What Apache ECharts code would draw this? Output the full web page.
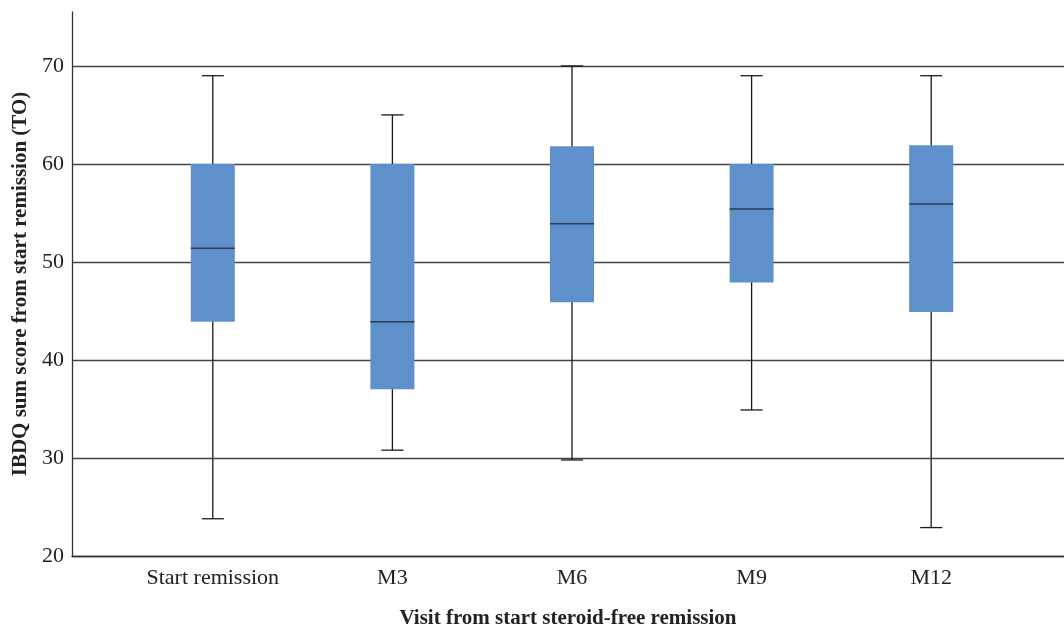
<!DOCTYPE html>
<html><head><meta charset="utf-8">
<script src="https://cdn.jsdelivr.net/npm/echarts@6/dist/echarts.min.js"></script>
<style>html,body{margin:0;padding:0;background:#fff}#c{width:1064px;height:627px}</style>
</head><body><div id="c"></div>
<script>
const categories = ['Start remission', 'M3', 'M6', 'M9', 'M12'];
const whiskerMin = [23.8, 30.8, 29.8, 34.9, 22.9];
const q1 = [43.9, 37.0, 45.9, 47.9, 44.9];
const median = [51.4, 43.9, 53.9, 55.4, 55.9];
const q3 = [60.0, 60.0, 61.8, 60.0, 61.9];
const whiskerMax = [69.0, 65.0, 70.0, 69.0, 69.0];
const yTicks = [20, 30, 40, 50, 60, 70];

const FONT = 'Liberation Serif';
const data = categories.map((c, i) => [i, whiskerMin[i], q1[i], median[i], q3[i], whiskerMax[i]]);

const chart = echarts.init(document.getElementById('c'));
chart.setOption({
  animation: false,
  grid: [
    {left: 72, right: 0, top: 12, bottom: 71, containLabel: false, outerBoundsMode: 'none'},
    {left: 123, right: 43, top: 12, bottom: 71, containLabel: false, outerBoundsMode: 'none'}
  ],
  xAxis: [
    {gridIndex: 0, type: 'value', min: 0, max: 1,
     axisLine: {show: true, onZero: false, lineStyle: {color: '#333', width: 1.3}},
     axisTick: {show: false}, axisLabel: {show: false}, splitLine: {show: false},
     name: 'Visit from start steroid-free remission', nameLocation: 'middle', nameGap: 52,
     nameTextStyle: {fontFamily: FONT, fontWeight: 'bold', fontSize: 21, color: '#222'}},
    {gridIndex: 1, type: 'category', data: categories,
     axisLine: {show: false}, axisTick: {show: false},
     axisLabel: {fontFamily: FONT, fontSize: 22, color: '#222', margin: 11}}
  ],
  yAxis: [
    {gridIndex: 0, type: 'value', min: 20, max: 75.5, interval: 10,
     axisLine: {show: true, lineStyle: {color: '#333', width: 1.3}},
     axisTick: {show: false},
     axisLabel: {fontFamily: FONT, fontSize: 22, color: '#222', margin: 8, showMaxLabel: false,
       formatter: v => yTicks.includes(v) ? String(v) : ''},
     splitLine: {show: true, showMaxLine: false, lineStyle: {color: '#444', width: 1.3}},
     name: 'IBDQ sum score from start remission (TO)', nameLocation: 'middle', nameGap: 41,
     nameTextStyle: {fontFamily: FONT, fontWeight: 'bold', fontSize: 21, color: '#222'}},
    {gridIndex: 1, type: 'value', min: 20, max: 75.5, show: false, splitLine: {show: false}}
  ],
  series: [{
    type: 'custom', xAxisIndex: 1, yAxisIndex: 1, data: data,
    renderItem: function (params, api) {
      const x = api.value(0);
      const pMin = api.coord([x, api.value(1)]);
      const pQ1 = api.coord([x, api.value(2)]);
      const pMed = api.coord([x, api.value(3)]);
      const pQ3 = api.coord([x, api.value(4)]);
      const pMax = api.coord([x, api.value(5)]);
      const band = api.size([1, 0])[0];
      const bw = band * 0.245, cw = band * 0.123;
      const cx = pQ1[0];
      const ls = {stroke: '#1a1a1a', lineWidth: 1.3};
      return {type: 'group', children: [
        {type: 'line', shape: {x1: cx, y1: pMin[1], x2: cx, y2: pMax[1]}, style: ls},
        {type: 'line', shape: {x1: cx - cw / 2, y1: pMin[1], x2: cx + cw / 2, y2: pMin[1]}, style: ls},
        {type: 'line', shape: {x1: cx - cw / 2, y1: pMax[1], x2: cx + cw / 2, y2: pMax[1]}, style: ls},
        {type: 'rect', shape: {x: cx - bw / 2, y: pQ3[1], width: bw, height: pQ1[1] - pQ3[1]}, style: {fill: '#5e91cc'}},
        {type: 'line', shape: {x1: cx - bw / 2, y1: pMed[1], x2: cx + bw / 2, y2: pMed[1]}, style: {stroke: '#2f3b4c', lineWidth: 1.5}}
      ]};
    }
  }]
});
</script></body></html>
